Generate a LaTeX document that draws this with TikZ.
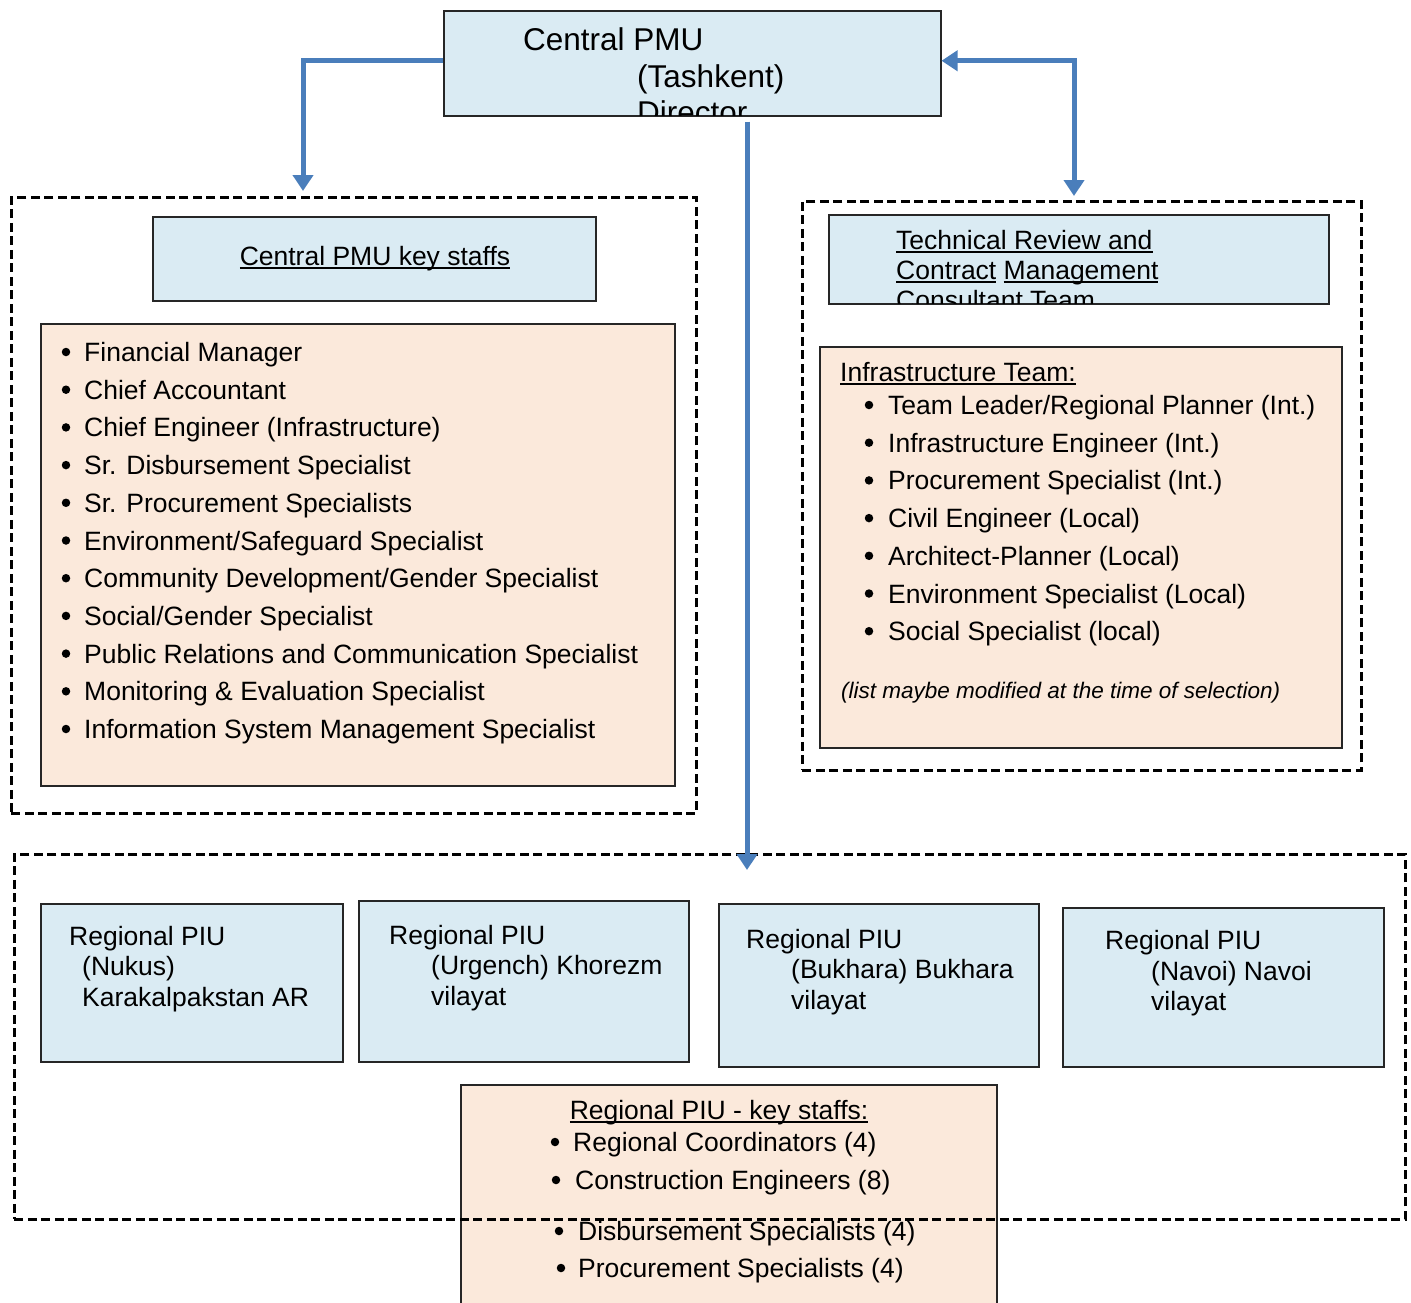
\documentclass[tikz,border=0pt]{standalone}
\usepackage{fontspec}
\setmainfont{Liberation Sans}
\usetikzlibrary{arrows.meta,calc}
\definecolor{paleblue}{HTML}{DAEBF3}
\definecolor{peach}{HTML}{FBE9DB}
\definecolor{linkblue}{HTML}{4A7EBB}
\newlength\ulwd
\newcommand\ulinetext[1]{\settowidth\ulwd{#1}\rlap{\rule[-3.2pt]{\ulwd}{1.6pt}}#1}

\begin{document}
\begin{tikzpicture}[x=1pt,y=-1pt,
  >={Triangle[width=20pt,length=16pt]},
  panel/.style={draw=black!85, line width=1.5pt, anchor=north west, inner sep=0pt},
  bluebox/.style={panel, fill=paleblue},
  peachbox/.style={panel, fill=peach},
  group/.style={draw=black, line width=2.8pt, dash pattern=on 9pt off 4.5pt, anchor=north west, inner sep=0pt},
  txt/.style={anchor=base west, inner sep=0pt, font=\fontsize{26.5}{30}\selectfont},
  ctxt/.style={txt, anchor=base},
  title/.style={txt, font=\fontsize{31.5}{36}\selectfont},
  note/.style={txt, font=\fontsize{22.5}{26}\selectfont\itshape},
  dot/.style={fill=black, circle, inner sep=0pt, minimum size=8.5pt},
  conn/.style={draw=linkblue, line width=5pt, ->},
  conn2/.style={draw=linkblue, line width=5pt, <->}
]
\useasboundingbox (0,0) rectangle (1411,1302);

% ---------- Central PMU ----------
\node[bluebox, minimum width=497pt, minimum height=105pt] (pmu) at (443,10) {};
\begin{scope}
  \clip (443,10) rectangle (940,115);
  \node[title] (pmu1) at (523,50.5) {Central PMU};
  \node[title] (pmu2) at (637,87) {(Tashkent)};
  \node[title] (pmu3) at (637,123.5) {Director};
\end{scope}

% ---------- Central PMU key staffs ----------
\node[bluebox, minimum width=443pt, minimum height=84pt] (cks) at (152,216) {};
\node[ctxt] (cksT) at (375,265.5) {\ulinetext{Central PMU key staffs}};

\node[peachbox, minimum width=634pt, minimum height=462pt] (clist) at (40,323) {};
\foreach \t [count=\i from 0] in {Financial Manager, Chief Accountant,
    Chief Engineer (Infrastructure), Sr. Disbursement Specialist,
    Sr. Procurement Specialists, Environment/Safeguard Specialist,
    Community Development/Gender Specialist, Social/Gender Specialist,
    Public Relations and Communication Specialist,
    Monitoring \& Evaluation Specialist,
    Information System Management Specialist}{
  \node[dot] (cb\i) at (66,352+37.7*\i) {};
  \node[txt] (ci\i) at (84,361.5+37.7*\i) {\t};
}

% ---------- Technical review consultant ----------
\node[bluebox, minimum width=500pt, minimum height=89pt] (trc) at (828,214) {};
\begin{scope}
  \clip (828,214) rectangle (1328,303);
  \node[txt] (trc1) at (896,249.5) {\ulinetext{Technical Review and}};
  \node[txt] (trc2) at (896,279.5) {\ulinetext{Contract} \ulinetext{Management}};
  \node[txt] (trc3) at (896,309.5) {\ulinetext{Consultant Team}};
\end{scope}

\node[peachbox, minimum width=522pt, minimum height=401pt] (infra) at (819,346) {};
\node[txt] (infraT) at (840,381.5) {\ulinetext{Infrastructure Team:}};
\foreach \t [count=\i from 0] in {Team Leader/Regional Planner (Int.),
    Infrastructure Engineer (Int.), Procurement Specialist (Int.),
    Civil Engineer (Local), Architect-Planner (Local),
    Environment Specialist (Local), Social Specialist (local)}{
  \node[dot] (ib\i) at (869,405+37.7*\i) {};
  \node[txt] (ii\i) at (888,414.5+37.7*\i) {\t};
}
\node[note] (inote) at (841,698) {(list maybe modified at the time of selection)};

% ---------- Regional PIUs ----------
\node[bluebox, minimum width=302pt, minimum height=158pt] (piu1) at (40,903) {};
\node[txt] at (69,945.5) {Regional PIU};
\node[txt] at (82,975.5) {(Nukus)};
\node[txt] at (82,1006.5) {Karakalpakstan AR};

\node[bluebox, minimum width=330pt, minimum height=161pt] (piu2) at (358,900) {};
\node[txt] at (389,944.5) {Regional PIU};
\node[txt] at (431,974.5) {(Urgench) Khorezm};
\node[txt] at (431,1005.5) {vilayat};

\node[bluebox, minimum width=320pt, minimum height=163pt] (piu3) at (718,903) {};
\node[txt] at (746,948.5) {Regional PIU};
\node[txt] at (791,978.5) {(Bukhara) Bukhara};
\node[txt] at (791,1009.5) {vilayat};

\node[bluebox, minimum width=321pt, minimum height=159pt] (piu4) at (1062,907) {};
\node[txt] at (1105,949.5) {Regional PIU};
\node[txt] at (1151,980.5) {(Navoi) Navoi};
\node[txt] at (1151,1010.5) {vilayat};

% ---------- Regional PIU key staffs ----------
\node[peachbox, minimum width=536pt, minimum height=230pt] (rks) at (460,1084) {};
\node[ctxt] (rksT) at (719,1119.5) {\ulinetext{Regional PIU - key staffs:}};
\node[dot] at (555,1142) {};
\node[txt] at (573,1151.5) {Regional Coordinators (4)};
\node[dot] at (556,1180) {};
\node[txt] at (575,1189.5) {Construction Engineers (8)};
\node[dot] at (559,1231) {};
\node[txt] at (578,1240.5) {Disbursement Specialists (4)};
\node[dot] at (561,1268) {};
\node[txt] at (578,1277.5) {Procurement Specialists (4)};

% ---------- dashed groupings ----------
\node[group, minimum width=685pt, minimum height=616pt] (gleft) at (10,196) {};
\node[group, minimum width=559pt, minimum height=569pt] (gright) at (801,200) {};
\node[group, minimum width=1391pt, minimum height=365pt] (gbottom) at (13,853) {};

% ---------- connectors ----------
\coordinate (ltip) at (303,191);
\coordinate (rtip) at (1074,196);
\coordinate (mtip) at (747,870);
\draw[conn] ([yshift=2.5pt]pmu.west) -| (ltip);
\draw[conn2] ([yshift=2.5pt]pmu.east) -| (rtip);
\draw[conn] ([yshift=-5pt]pmu.south -| mtip) -- (mtip);
\end{tikzpicture}
\end{document}
